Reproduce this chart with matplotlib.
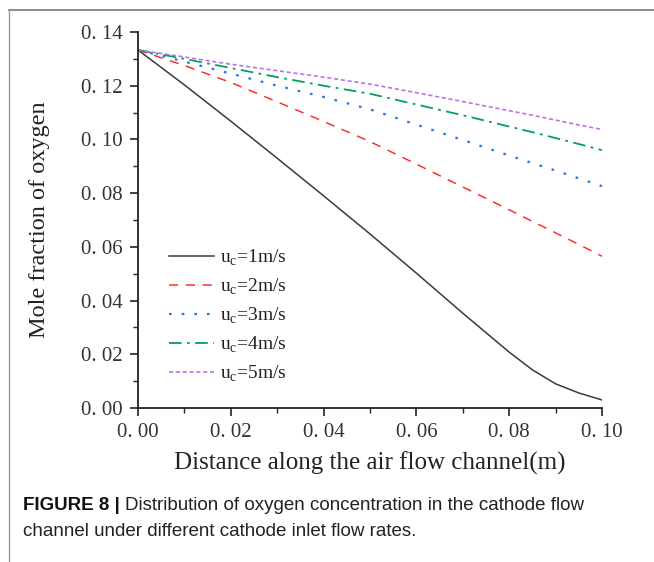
import matplotlib
matplotlib.use("Agg")
import matplotlib.pyplot as plt
from matplotlib.lines import Line2D
from matplotlib.ticker import MultipleLocator, FuncFormatter

x = [0.00, 0.01, 0.02, 0.03, 0.04, 0.05, 0.06, 0.07, 0.08, 0.085, 0.09, 0.095, 0.10]
u1 = [0.1333, 0.1203, 0.1068, 0.0930, 0.0790, 0.0648, 0.0502, 0.0353, 0.0208, 0.0142, 0.0090, 0.0056, 0.0030]
u2 = [0.1333, 0.1275, 0.1212, 0.1140, 0.1067, 0.0992, 0.0908, 0.0823, 0.0738, 0.0695, 0.0652, 0.0609, 0.0565]
u3 = [0.1333, 0.1290, 0.1245, 0.1200, 0.1158, 0.1112, 0.1055, 0.0998, 0.0940, 0.0912, 0.0884, 0.0855, 0.0826]
u4 = [0.1333, 0.1300, 0.1266, 0.1232, 0.1200, 0.1170, 0.1130, 0.1090, 0.1048, 0.1027, 0.1005, 0.0983, 0.0960]
u5 = [0.1333, 0.1307, 0.1280, 0.1256, 0.1232, 0.1206, 0.1174, 0.1141, 0.1107, 0.1090, 0.1072, 0.1054, 0.1037]
labels = ["u$_\\mathregular{c}$=1m/s", "u$_\\mathregular{c}$=2m/s", "u$_\\mathregular{c}$=3m/s",
          "u$_\\mathregular{c}$=4m/s", "u$_\\mathregular{c}$=5m/s"]

plt.rcParams['font.family'] = ['Liberation Serif', 'DejaVu Serif']
plt.rcParams['mathtext.fontset'] = 'custom'
plt.rcParams['mathtext.rm'] = 'Liberation Serif'

fig = plt.figure(figsize=(6.54, 5.62), dpi=100)
ax = fig.add_axes([138/654, 1-408/562, (602-138)/654, (408-32)/562])

series = [u1, u2, u3, u4, u5]
styles = [
    dict(color='#3a3a3a', linestyle='-', lw=1.1),
    dict(color='#ff3030', linestyle=(0, (6, 5)), lw=1.1),
    dict(color='#2277ee', linestyle=(0, (1.2, 4.5)), lw=1.6),
    dict(color='#00a060', linestyle=(0, (7, 3, 1.5, 3)), lw=1.3),
    dict(color='#c070ee', linestyle=(0, (2.5, 1.6)), lw=1.2),
]
for ys, st, lab in zip(series, styles, labels):
    ax.plot(x, ys, label=lab, **st)

ax.set_xlim(0, 0.10)
ax.set_ylim(0, 0.14)
ax.xaxis.set_major_locator(MultipleLocator(0.02))
ax.xaxis.set_minor_locator(MultipleLocator(0.01))
ax.yaxis.set_major_locator(MultipleLocator(0.02))
ax.yaxis.set_minor_locator(MultipleLocator(0.01))
fmt = FuncFormatter(lambda v, p: ("%.2f" % v).replace('.', '. '))
ax.xaxis.set_major_formatter(fmt)
ax.yaxis.set_major_formatter(fmt)
for s in ['top', 'right']:
    ax.spines[s].set_visible(False)
for s in ['left', 'bottom']:
    ax.spines[s].set_linewidth(1.3)
    ax.spines[s].set_color('#222222')
ax.tick_params(which='major', direction='out', length=6, width=1.2, labelsize=15, colors='#222222', pad=5)
ax.tick_params(which='minor', direction='out', length=3.5, width=1.0, colors='#222222')
ax.tick_params(axis='x', labelcolor='#333333')
ax.tick_params(axis='y', labelcolor='#333333')

ax.set_xlabel("Distance along the air flow channel(m)", fontsize=18, labelpad=7, color='#222222')
ax.set_ylabel("Mole fraction of oxygen", fontsize=17.5, labelpad=22, color='#222222')

leg = ax.legend(loc='lower left', bbox_to_anchor=(0.029, 0.016), frameon=False, fontsize=14,
                handlelength=2.3, handletextpad=0.3, labelspacing=0.45)
for t in leg.get_texts():
    t.set_color('#222222')

# screenshot frame
fig.add_artist(Line2D([9/654, 1], [1-10/562, 1-10/562], color='#777777', lw=1.2, transform=fig.transFigure))
fig.add_artist(Line2D([9/654, 9/654], [0, 1-10/562], color='#999999', lw=1.0, transform=fig.transFigure))

# caption
cap_fs = 13.5
t1 = fig.text(23/654, 1-505/562, "FIGURE 8 |", fontsize=cap_fs, fontweight='bold', family='Liberation Sans',
              va='center', ha='left', color='#111111')
fig.canvas.draw()
bb = t1.get_window_extent()
fig.text((bb.x1 + 5)/654, 1-505/562, "Distribution of oxygen concentration in the cathode flow", fontsize=cap_fs,
         family='Liberation Sans', va='center', ha='left', color='#222222')
fig.text(23/654, 1-531/562, "channel under different cathode inlet flow rates.", fontsize=cap_fs,
         family='Liberation Sans', va='center', ha='left', color='#222222')

fig.savefig("out.png", dpi=100)
